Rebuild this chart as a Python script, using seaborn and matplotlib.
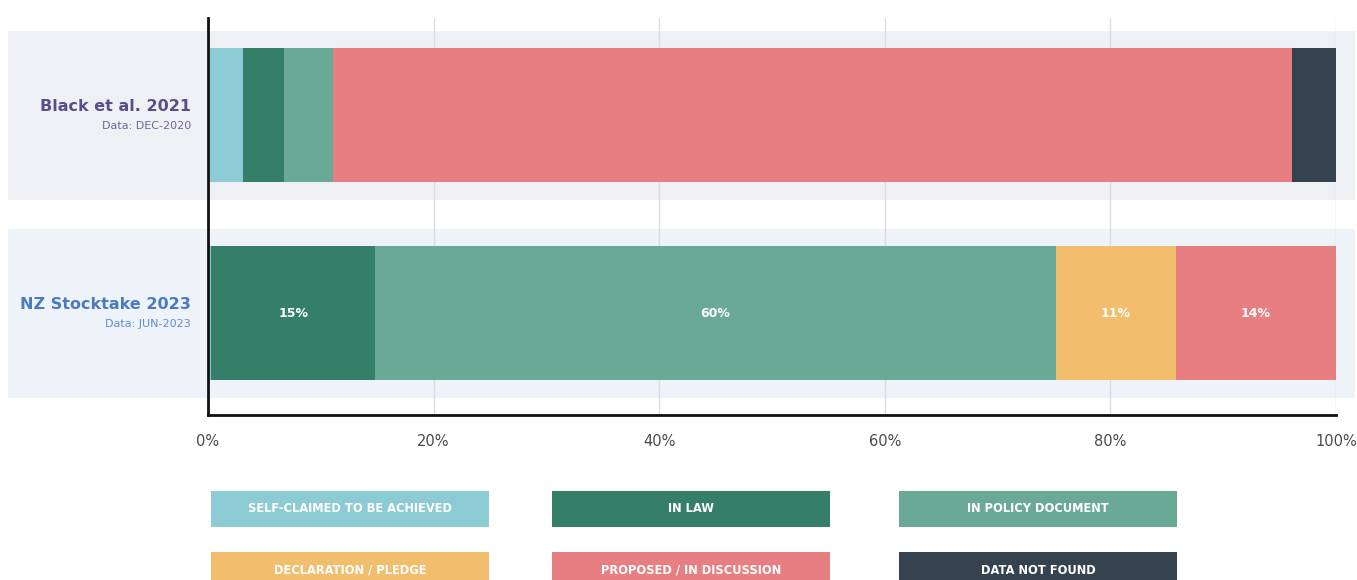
import numpy as np
import pandas as pd
import matplotlib
matplotlib.use("Agg")
import matplotlib.pyplot as plt
import seaborn as sns
from matplotlib.patches import Rectangle
from matplotlib.transforms import blended_transform_factory

# ---- data ----
studies = ["Black et al. 2021", "NZ Stocktake 2023"]
data_dates = ["Data: DEC-2020", "Data: JUN-2023"]
categories = ["Self-claimed to be achieved", "In law", "In policy document",
              "Declaration / pledge", "Proposed / in discussion", "Data not found"]
black_2021 = [3.1, 3.6, 4.4, 0.0, 85.0, 3.9]
nz_2023 = [0.3, 14.5, 60.4, 10.6, 14.2, 0.0]
nz_labels = ["", "15%", "60%", "11%", "14%", ""]
black_labels = ["", "", "", "", "", ""]
x_ticks = [0, 20, 40, 60, 80, 100]
x_tick_labels = ["0%", "20%", "40%", "60%", "80%", "100%"]

colors = ["#8ccad4", "#357f68", "#6aa996", "#f3bd6e", "#e77e81", "#35434f"]
title_colors = ["#574f8b", "#4a7bc1"]
date_colors = ["#6c6799", "#5d8ccf"]
band_colors = ["#eff0f4", "#eef2f9"]

rows = []
for s, vals, labs in zip(studies, [black_2021, nz_2023], [black_labels, nz_labels]):
    cum = 0.0
    for c, v, l in zip(categories, vals, labs):
        rows.append(dict(study=s, category=c, value=v, left=cum, cum=cum + v, label=l))
        cum += v
df = pd.DataFrame(rows)

sns.set_style("white")
plt.rcParams["font.family"] = ["DejaVu Sans"]

W, H = 1357, 580
fig = plt.figure(figsize=(W / 100, H / 100), dpi=100)
ax_l, ax_r, ax_t, ax_b = 208, 1336, 18, 415
ax = fig.add_axes([ax_l / W, 1 - ax_b / H, (ax_r - ax_l) / W, (ax_b - ax_t) / H])
ax.set_facecolor("white")

bar_h = 134 / 198
for cat, col in zip(reversed(categories), reversed(colors)):
    sub = df[df.category == cat]
    sns.barplot(data=sub, x="cum", y="study", order=studies, color=col,
                width=bar_h, orient="h", ax=ax, errorbar=None,
                linewidth=0, saturation=1, zorder=2)

ax.set_xlim(0, 100)
ax.set_ylim(1.515, -0.49)

# background bands
trans = blended_transform_factory(fig.transFigure, ax.transData)
band_h = 169 / 198
for i, bc in enumerate(band_colors):
    ax.add_patch(Rectangle((8 / W, i - band_h / 2), (1355 - 8) / W, band_h,
                           transform=trans, facecolor=bc, edgecolor="none",
                           clip_on=False, zorder=0))

# grid
ax.set_axisbelow(True)
ax.xaxis.grid(True, color="#dcdcdc", linewidth=1)
ax.yaxis.grid(False)
ax.set_xticks(x_ticks)
ax.set_xticklabels(x_tick_labels, fontsize=10.5, color="#4a4a4a")
ax.tick_params(axis="x", length=0, pad=14)
ax.set_yticks([])
ax.set_xlabel("")
ax.set_ylabel("")
for sp in ["top", "right"]:
    ax.spines[sp].set_visible(False)
for sp in ["left", "bottom"]:
    ax.spines[sp].set_color("#111111")
    ax.spines[sp].set_linewidth(2)
    ax.spines[sp].set_zorder(3)

# value labels
for _, r in df.iterrows():
    if r["label"]:
        ax.text(r["left"] + r["value"] / 2, studies.index(r["study"]), r["label"],
                ha="center", va="center", color="white", fontsize=9,
                fontweight="bold", zorder=4)

# row labels
for i, (s, d) in enumerate(zip(studies, data_dates)):
    ax.annotate(s, xy=(0, i), xycoords=("axes fraction", "data"),
                xytext=(-17, 9), textcoords="offset pixels", ha="right", va="center",
                fontsize=11.5, fontweight="bold", color=title_colors[i])
    ax.annotate(d, xy=(0, i), xycoords=("axes fraction", "data"),
                xytext=(-17, -11), textcoords="offset pixels", ha="right", va="center",
                fontsize=8, color=date_colors[i])

# legend boxes
box_x = [211, 552, 899]
box_y = [491, 552]
bw, bh = 278, 36
for k, (cat, col) in enumerate(zip(categories, colors)):
    x0 = box_x[k % 3]
    y0 = box_y[k // 3]
    fig.patches.append(Rectangle((x0 / W, 1 - (y0 + bh) / H), bw / W, bh / H,
                                 transform=fig.transFigure, facecolor=col,
                                 edgecolor="none"))
    fig.text((x0 + bw / 2) / W, 1 - (y0 + bh / 2) / H, cat.upper(),
             ha="center", va="center", color="white", fontsize=8.3,
             fontweight="bold")

fig.savefig("out.png", dpi=100, facecolor="white")
